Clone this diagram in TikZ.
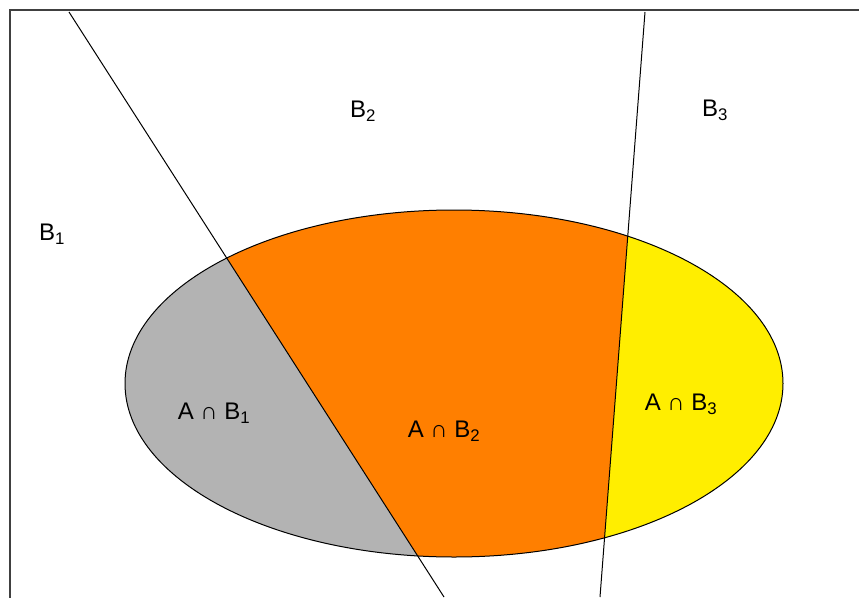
\documentclass[tikz,border=0pt]{standalone}
\usepackage{fontspec}
\setmainfont{Liberation Sans}
\usetikzlibrary{calc}
\definecolor{regiongray}{HTML}{B3B3B3}
\definecolor{regionorange}{HTML}{FF7F00}
\definecolor{regionyellow}{HTML}{FFEE00}

\begin{document}
\begin{tikzpicture}[
    x=1pt, y=-1pt,
    lbl/.style={font=\fontsize{24}{28}\selectfont, inner sep=0pt},
    border/.style={draw=black!75, line width=1.8pt},
    cut/.style={draw=black, line width=1pt},
]
\useasboundingbox (0,0) rectangle (859,597);
\clip (0,0) rectangle (859,597);

% the two partition lines
\coordinate (l1top) at (69,12);
\coordinate (l1bot) at (444,597);
\coordinate (l2top) at (645,12);
\coordinate (l2bot) at (600,597);
\coordinate (ctr) at (454,383.5);

% pieces of A
\begin{scope}
\clip (ctr) ellipse [x radius=329pt, y radius=173.5pt];
\fill[regiongray] (0,0) -- (l1top) -- (l1bot) -- (0,597) -- cycle;
\fill[regionorange] (l1top) -- (l2top) -- (l2bot) -- (l1bot) -- cycle;
\fill[regionyellow] (l2top) -- (859,0) -- (859,597) -- (l2bot) -- cycle;
\end{scope}
\draw[cut] (ctr) ellipse [x radius=329pt, y radius=173.5pt];

\draw[cut] (l1top) -- (l1bot);
\draw[cut] (l2top) -- (l2bot);

\draw[border] (10,10) rectangle (880,620);

\node[lbl] (b1) at (52,234) {B\textsubscript{1}};
\node[lbl] (b2) at (363,111) {B\textsubscript{2}};
\node[lbl] (b3) at (715,110) {B\textsubscript{3}};
\node[lbl] (ab1) at (214,413) {A ∩ B\textsubscript{1}};
\node[lbl] (ab2) at (444,431) {A ∩ B\textsubscript{2}};
\node[lbl] (ab3) at (681,404) {A ∩ B\textsubscript{3}};

\end{tikzpicture}
\end{document}
